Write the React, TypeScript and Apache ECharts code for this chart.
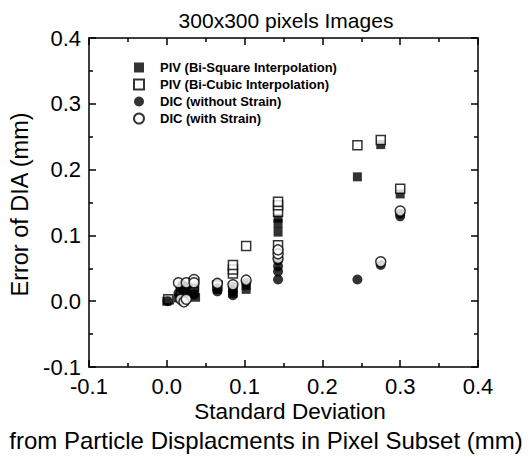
import React, { useEffect, useRef } from "react";
import * as echarts from "echarts";

const seriesNames = [
  "PIV (Bi-Square Interpolation)",
  "PIV (Bi-Cubic Interpolation)",
  "DIC (without Strain)",
  "DIC (with Strain)",
];

const pivBiSquare: [number, number][] = [
  [0.0, 0.0], [0.003, 0.002], [0.015, 0.005], [0.018, 0.012], [0.02, 0.018],
  [0.022, 0.008], [0.025, 0.015], [0.035, 0.012], [0.035, 0.02], [0.037, 0.006],
  [0.065, 0.018], [0.085, 0.012], [0.085, 0.018], [0.102, 0.018], [0.102, 0.024],
  [0.143, 0.105], [0.143, 0.118], [0.143, 0.126], [0.245, 0.189], [0.275, 0.238],
  [0.3, 0.163],
];

const pivBiCubic: [number, number][] = [
  [0.002, 0.003], [0.018, 0.016], [0.022, 0.02], [0.035, 0.022], [0.065, 0.024],
  [0.085, 0.042], [0.085, 0.048], [0.085, 0.055], [0.102, 0.084], [0.143, 0.085],
  [0.143, 0.136], [0.143, 0.146], [0.143, 0.151], [0.245, 0.237], [0.275, 0.245],
  [0.3, 0.171],
];

const dicWithout: [number, number][] = [
  [0.001, 0.0], [0.015, 0.012], [0.018, 0.02], [0.02, 0.025], [0.022, 0.015],
  [0.025, 0.022], [0.035, 0.01], [0.035, 0.02], [0.065, 0.015], [0.065, 0.02],
  [0.085, 0.009], [0.085, 0.015], [0.085, 0.022], [0.102, 0.028], [0.143, 0.033],
  [0.143, 0.045], [0.143, 0.053], [0.143, 0.062], [0.245, 0.033], [0.275, 0.055],
  [0.3, 0.129], [0.3, 0.133],
];

const dicWith: [number, number][] = [
  [0.015, 0.028], [0.018, 0.003], [0.022, -0.001], [0.025, 0.028], [0.025, 0.003],
  [0.035, 0.033], [0.035, 0.028], [0.065, 0.027], [0.085, 0.025], [0.102, 0.032],
  [0.143, 0.065], [0.143, 0.072], [0.143, 0.078], [0.275, 0.06],
  [0.3, 0.137],
];

const titleText = "300x300 pixels Images";
const yName = "Error of DIA (mm)";
const xNameLine1 = "Standard Deviation";
const xNameLine2 = "from Particle Displacments in Pixel Subset (mm)";

const FONT = "Liberation Sans, Arial, sans-serif";

export default function App() {
  const ref = useRef<HTMLDivElement>(null);
  useEffect(() => {
    if (!ref.current) return;
    const chart = echarts.init(ref.current, undefined, { renderer: "svg" });
    const axisCommon = {
      type: "value" as const,
      min: -0.1,
      max: 0.4,
      interval: 0.1,
      axisLine: { show: true, onZero: false, lineStyle: { color: "#000", width: 1.5 } },
      axisTick: { show: true, inside: true, length: 7, lineStyle: { color: "#000", width: 1.5 } },
      minorTick: { show: true, splitNumber: 2, length: 4, lineStyle: { color: "#000", width: 1.5 } },
      splitLine: { show: false },
    };
    const label = {
      color: "#000",
      fontSize: 22,
      fontFamily: FONT,
      formatter: (v: number) => v.toFixed(1),
    };
    const filled = { color: "#000" };
    const hollow = { color: "#fff", borderColor: "#000", borderWidth: 1.5 };
    chart.setOption({
      animation: false,
      backgroundColor: "#fff",
      title: {
        text: titleText,
        left: 281,
        top: 5,
        textAlign: "center",
        textStyle: { fontSize: 21, fontWeight: "normal", color: "#000", fontFamily: FONT },
      },
      grid: { left: 88, right: 53, top: 38, bottom: 90, containLabel: false },
      legend: {
        orient: "vertical",
        left: 128,
        top: 56,
        itemWidth: 10,
        itemHeight: 10,
        itemGap: 4,
        textStyle: { fontSize: 13, fontWeight: "bold", color: "#000", fontFamily: FONT, padding: [0, 0, 0, 11] },
        data: seriesNames,
      },
      xAxis: [
        {
          ...axisCommon,
          position: "bottom",
          axisLabel: { ...label, margin: 8 },
        },
        {
          ...axisCommon,
          position: "top",
          axisLabel: { show: false },
        },
      ],
      yAxis: [
        {
          ...axisCommon,
          position: "left",
          axisLabel: { ...label, margin: 8 },
          name: yName,
          nameLocation: "middle",
          nameGap: 57,
          nameTextStyle: { fontSize: 23.5, color: "#000", fontFamily: FONT, padding: [0, 4, 0, 0] },
        },
        {
          ...axisCommon,
          position: "right",
          axisLabel: { show: false },
        },
      ],
      graphic: [
        {
          type: "text",
          x: 290,
          y: 411,
          style: { text: xNameLine1, fill: "#000", font: `22.5px ${FONT}`, textAlign: "center", textVerticalAlign: "middle" },
        },
        {
          type: "text",
          x: 266,
          y: 440,
          style: { text: xNameLine2, fill: "#000", font: `24px ${FONT}`, textAlign: "center", textVerticalAlign: "middle" },
        },
      ],
      series: [
        { name: seriesNames[0], type: "scatter", symbol: "rect", symbolSize: 9, itemStyle: filled, data: pivBiSquare },
        { name: seriesNames[1], type: "scatter", symbol: "rect", symbolSize: 9, itemStyle: hollow, data: pivBiCubic },
        { name: seriesNames[2], type: "scatter", symbol: "circle", symbolSize: 10, itemStyle: filled, data: dicWithout },
        { name: seriesNames[3], type: "scatter", symbol: "circle", symbolSize: 10, itemStyle: hollow, data: dicWith },
      ],
    });
    return () => chart.dispose();
  }, []);
  return <div ref={ref} style={{ position: "fixed", left: 0, top: 0, width: 531, height: 457 }} />;
}
